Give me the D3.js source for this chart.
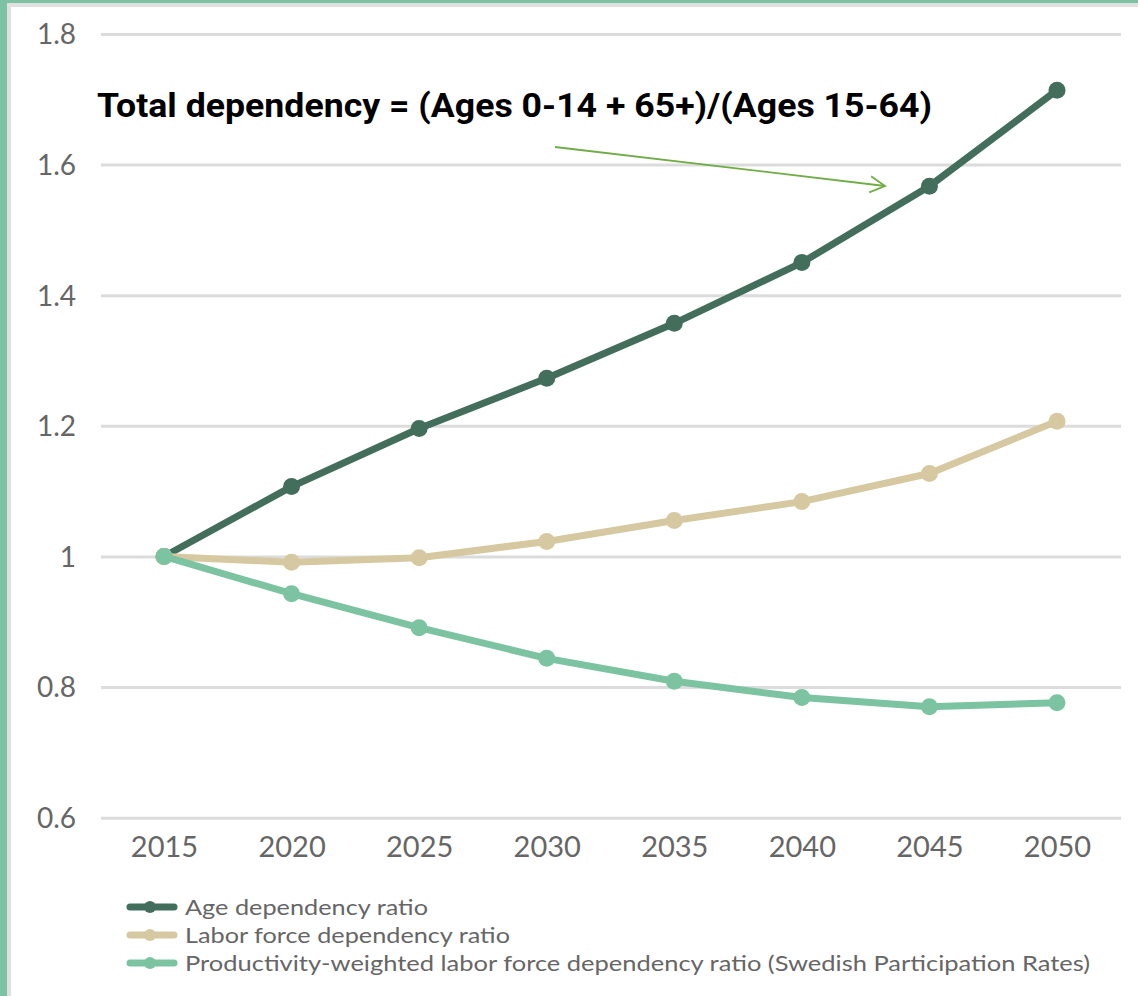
<!DOCTYPE html>
<html><head><meta charset="utf-8">
<script src="https://cdn.jsdelivr.net/npm/d3@7"></script>
<style>html,body{margin:0;padding:0;background:#fff;overflow:hidden}</style>
</head><body>
<svg id="chart" width="1138" height="996"></svg>
<script>
const years = [2015, 2020, 2025, 2030, 2035, 2040, 2045, 2050];
const ageDependency = [1.0, 1.107, 1.196, 1.273, 1.357, 1.450, 1.567, 1.714];
const laborDependency = [1.0, 0.991, 0.998, 1.023, 1.055, 1.084, 1.127, 1.207];
const productivityDependency = [1.0, 0.943, 0.891, 0.844, 0.809, 0.784, 0.770, 0.776];
const yTicks = [0.6, 0.8, 1, 1.2, 1.4, 1.6, 1.8];
const seriesNames = ["Age dependency ratio", "Labor force dependency ratio", "Productivity-weighted labor force dependency ratio (Swedish Participation Rates)"];
const annotationText = "Total dependency = (Ages 0-14 + 65+)/(Ages 15-64)";

const colors = ["#436e5c", "#d6c9a1", "#7cc3a1"];
const series = [ageDependency, laborDependency, productivityDependency];
const legendWidths = [243, 325, 905];

const svg = d3.select("#chart");
const W = 1138, H = 996;

// frame
svg.append("rect").attr("x", 0).attr("y", 0).attr("width", W).attr("height", H).attr("fill", "#fff");
svg.append("rect").attr("x", 7).attr("y", 3).attr("width", W).attr("height", 4).attr("fill", "#e0e0e0");
svg.append("rect").attr("x", 7).attr("y", 3).attr("width", 4).attr("height", H).attr("fill", "#e0e0e0");
svg.append("rect").attr("x", 0).attr("y", 0).attr("width", W).attr("height", 3).attr("fill", "#7dc3a3");
svg.append("rect").attr("x", 0).attr("y", 0).attr("width", 7).attr("height", H).attr("fill", "#7dc3a3");

const x = d3.scaleLinear().domain([2015, 2050]).range([164, 1057]);
const y = d3.scaleLinear().domain([0.6, 1.8]).range([817.7, 34]);

// grid
const yAxis = d3.axisLeft(y).tickValues(yTicks).tickSize(-(1121 - 101)).tickPadding(25)
  .tickFormat(d => d3.format("")(+d.toFixed(1)));
const gy = svg.append("g").attr("transform", "translate(101,0)").call(yAxis);
gy.select(".domain").remove();
gy.selectAll(".tick line").attr("stroke", "#dcdcdc").attr("stroke-width", 3);
gy.selectAll(".tick text").attr("fill", "#666").style("font-family", "Lato, 'Noto Sans', sans-serif")
  .style("font-size", "28px").attr("dy", "0.35em");

const xAxis = d3.axisBottom(x).tickValues(years).tickSize(0).tickPadding(0).tickFormat(d3.format("d"));
const gx = svg.append("g").attr("transform", "translate(0,847)").call(xAxis);
gx.select(".domain").remove();
gx.selectAll(".tick text").attr("fill", "#666").style("font-family", "Lato, 'Noto Sans', sans-serif")
  .style("font-size", "29px").attr("dy", "0.35em").attr("y", 0);

// lines
const line = d3.line().x((d, i) => x(years[i])).y(d => y(d)).curve(d3.curveLinear);
series.forEach((s, k) => {
  svg.append("path").datum(s).attr("d", line).attr("fill", "none")
    .attr("stroke", colors[k]).attr("stroke-width", 7).attr("stroke-linejoin", "round");
});
series.forEach((s, k) => {
  svg.append("g").selectAll("circle").data(s).join("circle")
    .attr("cx", (d, i) => x(years[i])).attr("cy", d => y(d)).attr("r", 8.5).attr("fill", colors[k]);
});

// annotation
svg.append("text").attr("x", 97).attr("y", 117).text(annotationText)
  .attr("fill", "#000").style("font-family", "'Liberation Sans Narrow', Roboto, 'Noto Sans', sans-serif")
  .style("font-weight", 700).style("font-size", "34px")
  .attr("textLength", 835).attr("lengthAdjust", "spacingAndGlyphs");

const ax0 = 555, ay0 = 147, ax1 = 885, ay1 = 186;
svg.append("line").attr("x1", ax0).attr("y1", ay0).attr("x2", ax1).attr("y2", ay1)
  .attr("stroke", "#70ad47").attr("stroke-width", 1.8);
const ang = Math.atan2(ay1 - ay0, ax1 - ax0);
const hl = 17, ha = 0.5;
svg.append("path").attr("d",
  `M${ax1 - hl * Math.cos(ang - ha)},${ay1 - hl * Math.sin(ang - ha)} L${ax1},${ay1} L${ax1 - hl * Math.cos(ang + ha)},${ay1 - hl * Math.sin(ang + ha)}`)
  .attr("fill", "none").attr("stroke", "#70ad47").attr("stroke-width", 1.8);

// legend
const lg = svg.append("g");
seriesNames.forEach((name, k) => {
  const ly = 907 + k * 28;
  lg.append("line").attr("x1", 130).attr("x2", 174).attr("y1", ly).attr("y2", ly)
    .attr("stroke", colors[k]).attr("stroke-width", 7).attr("stroke-linecap", "round");
  lg.append("circle").attr("cx", 150).attr("cy", ly).attr("r", 6).attr("fill", colors[k]);
  lg.append("text").attr("x", 185).attr("y", ly).attr("dy", "0.35em").text(name)
    .attr("fill", "#666").style("font-family", "Lato, 'Noto Sans', sans-serif").style("font-size", "22px")
    .attr("textLength", legendWidths[k]).attr("lengthAdjust", "spacingAndGlyphs");
});
</script>
</body></html>
